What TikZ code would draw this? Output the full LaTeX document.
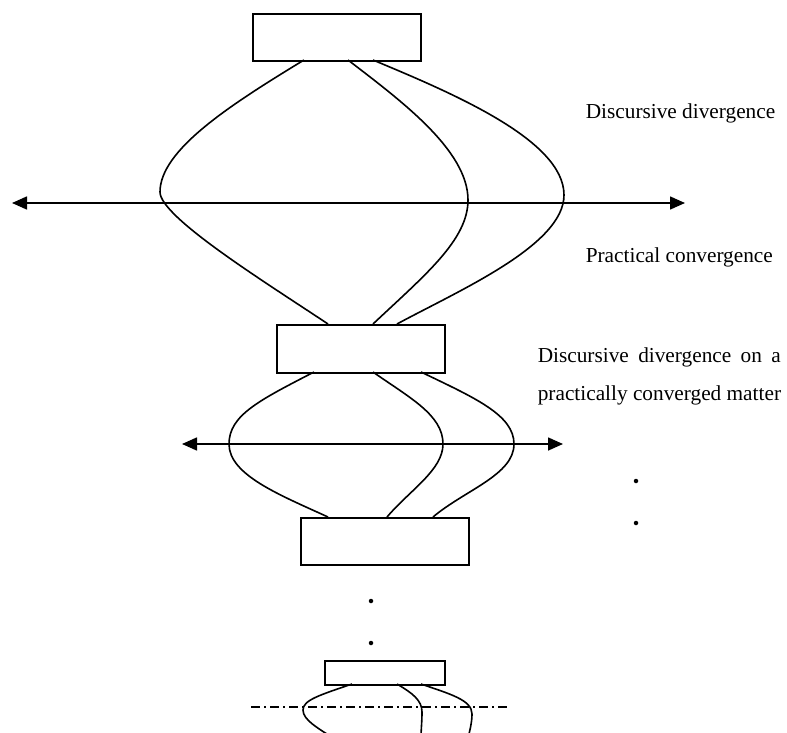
\documentclass[tikz,border=0pt]{standalone}
\usepackage{fontspec}
\setmainfont{Liberation Serif}
\usetikzlibrary{arrows.meta}
\begin{document}
\begin{tikzpicture}[x=1pt,y=-1pt,
  line width=1.6pt,
  stage/.style={draw,line width=1.6pt,inner sep=0pt,anchor=north west},
  strand/.style={line width=1.6pt},
  axis/.style={line width=1.6pt,{Triangle[length=15pt,width=13pt]}-{Triangle[length=15pt,width=13pt]}},
  label/.style={font=\fontsize{21.3}{25}\selectfont,anchor=west,inner sep=0pt},
  dot/.style={circle,fill,inner sep=0pt,minimum size=4.5pt}]
\useasboundingbox (0,0) rectangle (787,733);
\clip (0,0) rectangle (787,733);

% stages
\node[stage,minimum width=168pt,minimum height=47pt] (b1) at (252,13) {};
\node[stage,minimum width=168pt,minimum height=48pt] (b2) at (276,324) {};
\node[stage,minimum width=168pt,minimum height=47pt] (b3) at (300,517) {};
\node[stage,minimum width=120pt,minimum height=24pt] (b4) at (324,660) {};

% axes
\coordinate (a1l) at (12,203); \coordinate (a1r) at (685,203);
\coordinate (a2l) at (182,444); \coordinate (a2r) at (563,444);
\draw[axis] (a1l) -- (a1r);
\draw[axis] (a2l) -- (a2r);
\coordinate (a3l) at (251,707); \coordinate (a3r) at (510,707);
\draw[line width=1.5pt,dash pattern=on 9pt off 4pt on 2pt off 4pt] (a3l) -- (a3r);

% strands between stage 1 and stage 2
\draw[strand] (304,60) .. controls (230,105) and (160,150) .. (160,192)
  .. controls (160,217) and (265,282) .. (328,324);
\draw[strand] (348,60) .. controls (400,100) and (468,150) .. (468,200)
  .. controls (468,240) and (425,275) .. (373,324);
\draw[strand] (373,60) .. controls (452,93) and (564,140) .. (564,195)
  .. controls (564,245) and (460,290) .. (397,324);

% strands between stage 2 and stage 3
\draw[strand] (314,372) .. controls (260,400) and (229,415) .. (229,444)
  .. controls (229,475) and (280,495) .. (328,517);
\draw[strand] (373,372) .. controls (410,398) and (443,415) .. (443,444)
  .. controls (443,470) and (410,490) .. (387,517);
\draw[strand] (421,372) .. controls (475,398) and (514,415) .. (514,444)
  .. controls (514,475) and (465,490) .. (433,517);

% strands below stage 4
\draw[strand] (352,684) .. controls (320,695) and (303,700) .. (303,710)
  .. controls (303,720) and (318,728) .. (333,738);
\draw[strand] (397,684) .. controls (412,693) and (422,700) .. (422,712)
  .. controls (422,722) and (421,730) .. (421,738);
\draw[strand] (421,684) .. controls (450,694) and (472,700) .. (472,714)
  .. controls (472,722) and (470,730) .. (468,738);

% continuation dots
\node[dot] (d1) at (371,601) {};
\node[dot] (d2) at (371,643) {};
\node[dot] (d3) at (636,481) {};
\node[dot] (d4) at (636,523) {};

% labels
\node[label] (t1) at (585,113) {Discursive divergence};
\node[label] (t2) at (585,257) {Practical convergence};
\node[label] (t3) at (537,357) {\makebox[243pt][s]{Discursive divergence on a}};
\node[label] (t4) at (537,395) {practically converged matter};
\end{tikzpicture}
\end{document}
